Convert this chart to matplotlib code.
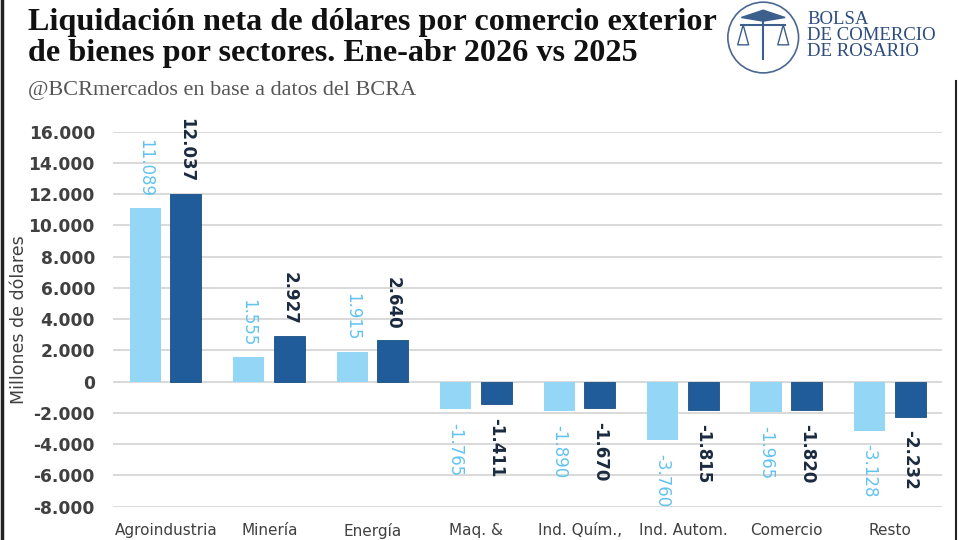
import matplotlib.pyplot as plt
import numpy as np
from matplotlib.lines import Line2D
from matplotlib.patches import Circle

sectores = ["Agroindustria", "Minería", "Energía", "Maq. &", "Ind. Quím.,",
            "Ind. Autom.", "Comercio", "Resto"]
valores_2025 = [11089, 1555, 1915, -1765, -1890, -3760, -1965, -3128]
valores_2026 = [12037, 2927, 2640, -1411, -1670, -1815, -1820, -2232]

color_claro = "#93d6f6"
color_oscuro = "#1f5c99"
texto_claro = "#62c3f0"
texto_oscuro = "#1b2a3e"
gris = "#404040"


def miles(v):
    return f"{v:,.0f}".replace(",", ".")


fig = plt.figure(figsize=(9.6, 5.4), dpi=100)
ax = fig.add_axes([0.1177, 0.0617, 0.8635, 0.6944])

x = np.arange(len(sectores))
ancho = 0.30
b1 = ax.bar(x - 0.2, valores_2025, ancho, color=color_claro, zorder=3)
b2 = ax.bar(x + 0.195, valores_2026, ancho, color=color_oscuro,
            edgecolor="#1a4f86", linewidth=0.6, zorder=3)

for barras, vals, col, peso in [(b1, valores_2025, texto_claro, "normal"),
                               (b2, valores_2026, texto_oscuro, "bold")]:
    for r, v in zip(barras, vals):
        cx = r.get_x() + r.get_width() / 2
        if v >= 0:
            ax.annotate(miles(v), (cx, v), xytext=(0, 8), textcoords="offset points",
                        rotation=270, ha="center", va="bottom", color=col,
                        fontsize=12, fontweight=peso, family="DejaVu Sans",
                        annotation_clip=False)
        else:
            ax.annotate(miles(v), (cx, v), xytext=(0, -10), textcoords="offset points",
                        rotation=270, ha="center", va="top", color=col,
                        fontsize=12, fontweight=peso, family="DejaVu Sans",
                        annotation_clip=False)

ax.set_xlim(-0.51, 7.5)
ax.set_ylim(-8000, 16000)
ticks = np.arange(-8000, 16001, 2000)
ax.set_yticks(ticks)
ax.set_yticklabels([miles(t) for t in ticks], color=gris, fontsize=12.3,
                   fontweight="semibold", family="DejaVu Sans")
ax.set_xticks(x)
ax.set_xticklabels(sectores, color=gris, fontsize=11, family="DejaVu Sans")
ax.tick_params(axis="y", length=0, pad=13)
ax.tick_params(axis="x", length=0, pad=12)
ax.grid(axis="y", color="#d9d9d9", linewidth=1.4, zorder=0)
for s in ax.spines.values():
    s.set_visible(False)
ax.set_ylabel("Millones de dólares", color=gris, fontsize=12.5, family="DejaVu Sans")
ax.yaxis.set_label_coords(-0.103, 0.5)

fig.text(0.029, 0.958, "Liquidación neta de dólares por comercio exterior",
         fontsize=23.2, fontweight="bold", family="Liberation Serif", color="#111111",
         va="center")
fig.text(0.029, 0.901, "de bienes por sectores. Ene-abr 2026 vs 2025",
         fontsize=23.2, fontweight="bold", family="Liberation Serif", color="#111111",
         va="center")
fig.text(0.029, 0.832, "@BCRmercados en base a datos del BCRA",
         fontsize=16, family="Liberation Serif", color="#555555", va="center")

# logo BCR
logo = fig.add_axes([0.757, 0.863, 0.076, 0.135])
logo.set_xlim(-1, 1)
logo.set_ylim(-1, 1)
logo.set_aspect("equal")
logo.axis("off")
logo.add_patch(Circle((0, 0), 0.97, fill=False, edgecolor="#4a6790", linewidth=1.2))
logo.plot([-0.6, 0.6], [0.35, 0.35], color="#3d5f8c", lw=1.5)
logo.plot([0, 0], [0.6, -0.6], color="#3d5f8c", lw=1.5)
logo.plot([-0.55, -0.7, -0.4, -0.55], [0.35, -0.2, -0.2, 0.35], color="#3d5f8c", lw=1)
logo.plot([0.55, 0.4, 0.7, 0.55], [0.35, -0.2, -0.2, 0.35], color="#3d5f8c", lw=1)
logo.fill([-0.6, 0, 0.6, 0], [0.55, 0.75, 0.55, 0.45], color="#3d5f8c")

for i, linea in enumerate(["BOLSA", "DE COMERCIO", "DE ROSARIO"]):
    fig.text(0.841, 0.963 - i * 0.029, linea, fontsize=13.5, family="Liberation Serif",
             color="#2c4c7c", va="center")

fig.add_artist(Line2D([0.002, 0.002], [0, 1], color="#222222", lw=2.5))
fig.add_artist(Line2D([0.996, 0.996], [0, 0.85], color="#222222", lw=1.5))

fig.savefig("out.png", dpi=100)
